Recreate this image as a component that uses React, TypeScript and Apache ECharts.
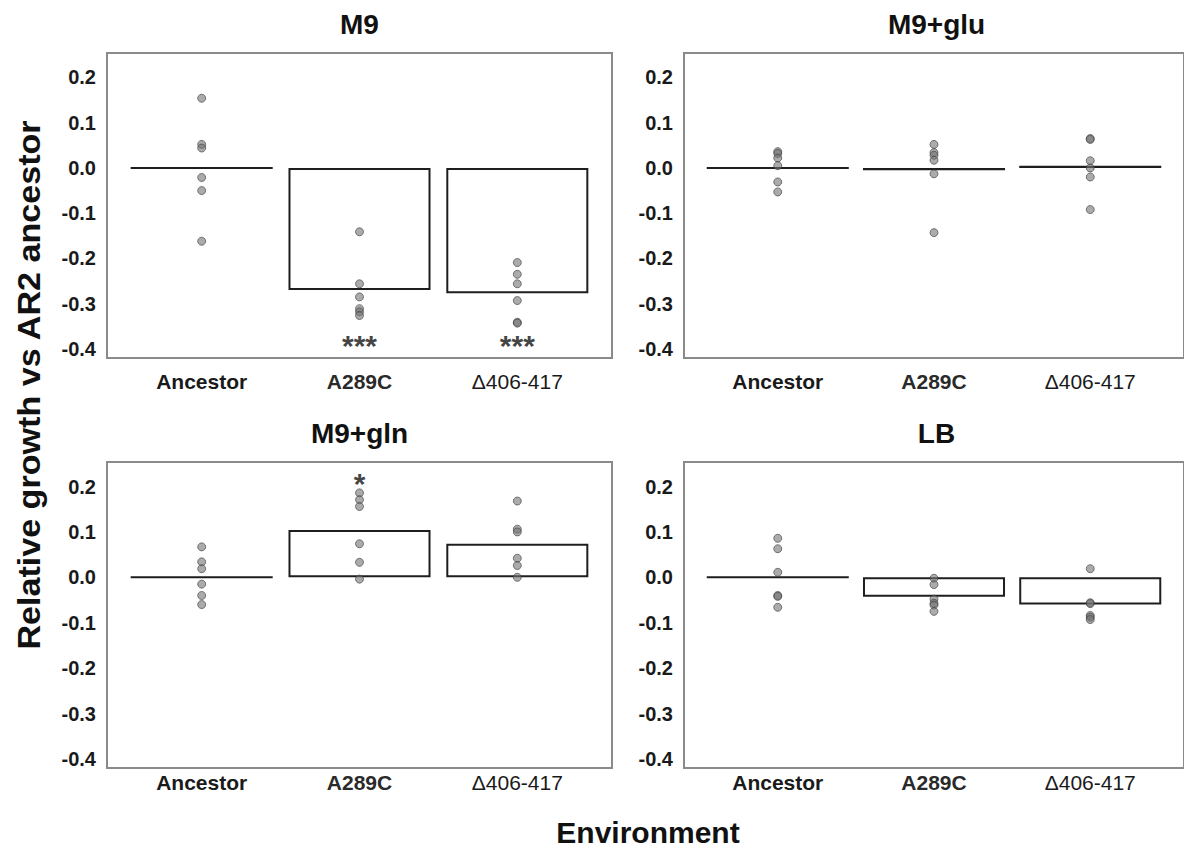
import React, { useEffect, useRef } from "react";
import * as echarts from "echarts";

const categories = ["Ancestor", "A289C", "Δ406-417"];
const yTicks = [-0.4, -0.3, -0.2, -0.1, 0.0, 0.1, 0.2];
const panelTitles = ["M9", "M9+glu", "M9+gln", "LB"];

// M9
const m9Ancestor = [0.154, 0.052, 0.044, -0.021, -0.05, -0.162];
const m9A289C = [-0.141, -0.256, -0.285, -0.311, -0.318, -0.326];
const m9Delta = [-0.209, -0.235, -0.256, -0.293, -0.341, -0.343];
const m9Means = [0, -0.27, -0.277];
const m9Sig = ["", "***", "***"];
const m9SigY = [null, -0.383, -0.383];

// M9+glu
const gluAncestor = [0.036, 0.032, 0.022, 0.005, -0.031, -0.053];
const gluA289C = [0.052, 0.034, 0.028, 0.017, -0.013, -0.143];
const gluDelta = [0.065, 0.063, 0.016, 0.0, -0.02, -0.092];
const gluMeans = [0, -0.005, 0.005];
const gluSig = ["", "", ""];
const gluSigY = [null, null, null];

// M9+gln
const glnAncestor = [0.067, 0.034, 0.019, -0.015, -0.04, -0.06];
const glnA289C = [0.186, 0.171, 0.156, 0.074, 0.033, -0.004];
const glnDelta = [0.168, 0.106, 0.1, 0.042, 0.026, 0.0];
const glnMeans = [0, 0.104, 0.074];
const glnSig = ["", "*", ""];
const glnSigY = [null, 0.215, null];

// LB
const lbAncestor = [0.086, 0.063, 0.011, -0.04, -0.042, -0.066];
const lbA289C = [-0.002, -0.016, -0.048, -0.057, -0.061, -0.075];
const lbDelta = [0.019, -0.056, -0.058, -0.084, -0.088, -0.093];
const lbMeans = [0, -0.043, -0.06];
const lbSig = ["", "", ""];
const lbSigY = [null, null, null];

const panels = [
  { points: [m9Ancestor, m9A289C, m9Delta], means: m9Means, sig: m9Sig, sigY: m9SigY },
  { points: [gluAncestor, gluA289C, gluDelta], means: gluMeans, sig: gluSig, sigY: gluSigY },
  { points: [glnAncestor, glnA289C, glnDelta], means: glnMeans, sig: glnSig, sigY: glnSigY },
  { points: [lbAncestor, lbA289C, lbDelta], means: lbMeans, sig: lbSig, sigY: lbSigY },
];

const FONT = "'Liberation Sans', Arial, sans-serif";

const frames = [
  { left: 107, top: 53, width: 505, height: 305, labelMargin: 13 },
  { left: 684, top: 53, width: 505, height: 305, labelMargin: 13 },
  { left: 107, top: 462, width: 505, height: 306, labelMargin: 4 },
  { left: 684, top: 462, width: 505, height: 306, labelMargin: 4 },
];

const X_MIN = -0.6;
const X_MAX = 2.6;

export default function App() {
  const ref = useRef<HTMLDivElement>(null);
  useEffect(() => {
    document.body.style.margin = "0";
    if (!ref.current) return;
    const chart = echarts.init(ref.current, null, { renderer: "svg" });

    const grid: any[] = [];
    const xAxis: any[] = [];
    const yAxis: any[] = [];
    const series: any[] = [];
    const graphic: any[] = [];

    frames.forEach((f, i) => {
      grid.push({
        left: f.left,
        top: f.top,
        width: f.width,
        height: f.height,
        show: true,
        borderColor: "#8a8a8a",
        borderWidth: 2,
        backgroundColor: "transparent",
      });
      xAxis.push({
        type: "value",
        gridIndex: i,
        min: X_MIN,
        max: X_MAX,
        axisLine: { show: false },
        axisTick: { show: false },
        splitLine: { show: false },
        axisLabel: {
          customValues: [0, 1, 2],
          margin: f.labelMargin,
          fontFamily: FONT,
          fontSize: 21,
          color: "#1a1a1a",
          formatter: (v: number) => {
            const idx = Math.round(v);
            const style = idx === 0 ? "b" : idx === 1 ? "m" : "n";
            return `{${style}|${categories[idx]}}`;
          },
          rich: {
            b: { fontFamily: FONT, fontSize: 21, fontWeight: "bold", color: "#1a1a1a" },
            m: { fontFamily: FONT, fontSize: 21, fontWeight: "bold", color: "#2a2a2a" },
            n: { fontFamily: FONT, fontSize: 21, fontWeight: "normal", color: "#1a1a1a" },
          },
        },
      });
      yAxis.push({
        type: "value",
        gridIndex: i,
        min: -0.42,
        max: 0.254,
        axisLine: { show: false },
        axisTick: { show: false },
        splitLine: { show: false },
        axisLabel: {
          customValues: yTicks,
          margin: 11,
          fontFamily: FONT,
          fontSize: 20,
          fontWeight: "bold",
          color: "#1a1a1a",
          formatter: (v: number) => v.toFixed(1),
        },
      });

      const p = panels[i];
      const unit = f.width / (X_MAX - X_MIN);
      series.push({
        type: "bar",
        xAxisIndex: i,
        yAxisIndex: i,
        barWidth: 0.9 * unit,
        data: p.means.map((m, k) => [k, m]),
        itemStyle: { color: "#ffffff", borderColor: "#1e1e1e", borderWidth: 2 },
        z: 1,
      });
      const pts: number[][] = [];
      p.points.forEach((arr, k) => arr.forEach((v) => pts.push([k, v])));
      series.push({
        type: "scatter",
        xAxisIndex: i,
        yAxisIndex: i,
        symbol: "circle",
        symbolSize: 8,
        data: pts,
        itemStyle: {
          color: "rgba(115,115,115,0.75)",
          borderColor: "rgba(60,60,60,0.8)",
          borderWidth: 1,
        },
        z: 3,
      });
      const sigData: any[] = [];
      p.sig.forEach((s, k) => {
        if (s && p.sigY[k] !== null) sigData.push({ value: [k, p.sigY[k]], name: s });
      });
      if (sigData.length) {
        series.push({
          type: "scatter",
          xAxisIndex: i,
          yAxisIndex: i,
          symbolSize: 1,
          itemStyle: { color: "transparent" },
          data: sigData,
          label: {
            show: true,
            position: "inside",
            offset: [0, 4],
            formatter: (d: any) => d.name,
            fontFamily: FONT,
            fontSize: 30,
            fontWeight: "bold",
            color: "#111",
          },
          z: 4,
        });
      }

      graphic.push({
        type: "text",
        x: f.left + f.width / 2,
        y: f.top - 29,
        style: {
          text: panelTitles[i],
          fontFamily: FONT,
          fontSize: 28,
          fontWeight: "bold",
          fill: "#111",
          align: "center",
          verticalAlign: "middle",
        },
      });
    });

    graphic.push({
      type: "text",
      x: 648,
      y: 832,
      style: {
        text: "Environment",
        fontFamily: FONT,
        fontSize: 30,
        fontWeight: "bold",
        fill: "#111",
        align: "center",
        verticalAlign: "middle",
      },
    });
    graphic.push({
      type: "text",
      x: 30,
      y: 385,
      rotation: Math.PI / 2,
      scaleX: 1.1,
      style: {
        text: "Relative growth vs AR2 ancestor",
        fontFamily: FONT,
        fontSize: 31,
        fontWeight: "bold",
        fill: "#111",
        align: "center",
        verticalAlign: "middle",
      },
    });

    chart.setOption({
      animation: false,
      backgroundColor: "#ffffff",
      grid,
      xAxis,
      yAxis,
      series,
      graphic,
    });
    return () => chart.dispose();
  }, []);
  return <div ref={ref} style={{ width: 1184, height: 848 }} />;
}
